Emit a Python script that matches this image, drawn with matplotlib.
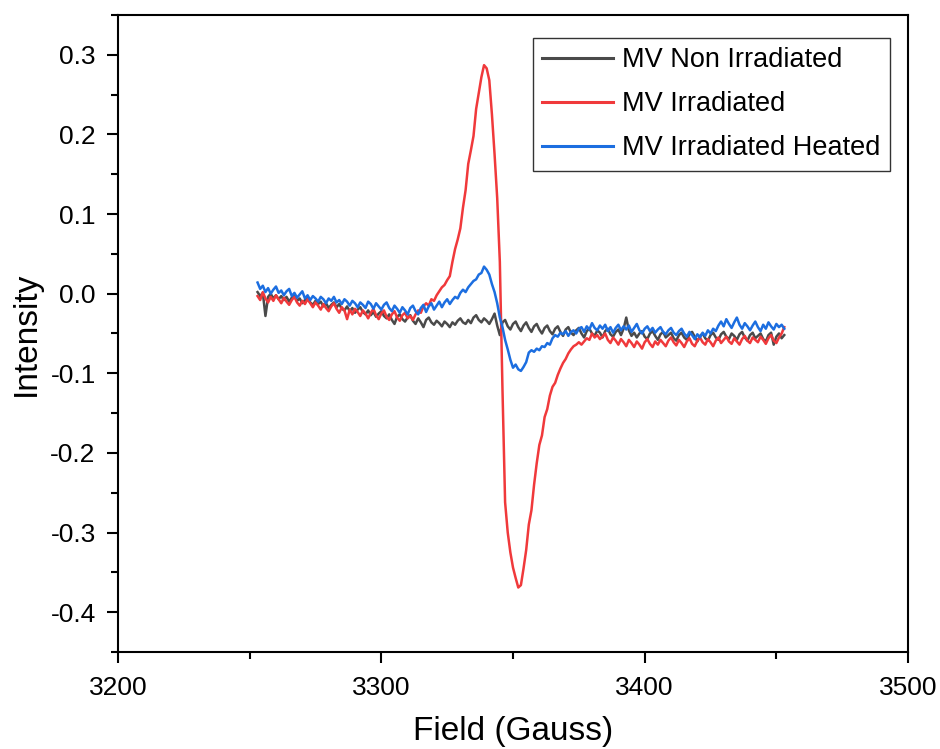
import numpy as np
import matplotlib.pyplot as plt
from matplotlib.ticker import MultipleLocator

# Field axis: 1 G steps from 3253 to 3453 G
field_start = 3253.0
field_step = 1.0

non_irradiated = [
    0.002, -0.003, 0.001, -0.028, -0.004, 0.000, -0.006, -0.002, -0.007, -0.003,
    -0.008, -0.004, -0.010, -0.005, -0.002, -0.009, -0.006, -0.012, -0.008, -0.005,
    -0.011, -0.014, -0.009, -0.013, -0.010, -0.016, -0.012, -0.018, -0.014, -0.011,
    -0.017, -0.013, -0.019, -0.021, -0.016, -0.022, -0.018, -0.024, -0.020, -0.017,
    -0.023, -0.026, -0.021, -0.027, -0.023, -0.029, -0.025, -0.022, -0.028, -0.031,
    -0.026, -0.033, -0.038, -0.029, -0.026, -0.032, -0.035, -0.030, -0.027, -0.034,
    -0.038, -0.031, -0.036, -0.042, -0.033, -0.030, -0.036, -0.039, -0.034, -0.037,
    -0.041, -0.035, -0.038, -0.042, -0.036, -0.039, -0.034, -0.031, -0.036, -0.038,
    -0.033, -0.037, -0.030, -0.027, -0.033, -0.036, -0.031, -0.034, -0.038, -0.032,
    -0.025, -0.040, -0.052, -0.036, -0.033, -0.041, -0.045, -0.038, -0.035, -0.042,
    -0.047, -0.040, -0.036, -0.043, -0.048, -0.041, -0.038, -0.045, -0.050, -0.043,
    -0.040, -0.047, -0.051, -0.044, -0.041, -0.048, -0.053, -0.045, -0.042, -0.049,
    -0.052, -0.046, -0.043, -0.050, -0.055, -0.047, -0.044, -0.050, -0.053, -0.046,
    -0.049, -0.055, -0.047, -0.044, -0.051, -0.054, -0.048, -0.045, -0.052, -0.044,
    -0.030, -0.046, -0.053, -0.049, -0.055, -0.050, -0.047, -0.054, -0.057, -0.050,
    -0.047, -0.053, -0.058, -0.051, -0.048, -0.055, -0.052, -0.049, -0.056, -0.059,
    -0.052, -0.049, -0.055, -0.058, -0.051, -0.048, -0.054, -0.060, -0.053, -0.050,
    -0.056, -0.059, -0.052, -0.049, -0.055, -0.058, -0.051, -0.048, -0.054, -0.057,
    -0.050, -0.053, -0.058, -0.051, -0.048, -0.055, -0.059, -0.052, -0.049, -0.056,
    -0.053, -0.050, -0.057, -0.060, -0.052, -0.049, -0.064, -0.054, -0.050, -0.056,
    -0.052,
]

irradiated = [
    -0.003, -0.008, 0.002, -0.006, -0.011, -0.004, -0.009, -0.002, -0.007, -0.012,
    -0.005, -0.010, -0.014, -0.008, -0.004, -0.011, -0.015, -0.009, -0.013, -0.007,
    -0.012, -0.017, -0.011, -0.015, -0.020, -0.013, -0.018, -0.022, -0.016, -0.012,
    -0.019, -0.024, -0.017, -0.021, -0.032, -0.020, -0.026, -0.019, -0.023, -0.028,
    -0.021, -0.025, -0.031, -0.024, -0.019, -0.027, -0.032, -0.025, -0.021, -0.029,
    -0.033, -0.026, -0.022, -0.030, -0.034, -0.027, -0.024, -0.031, -0.028, -0.033,
    -0.026, -0.021, -0.024, -0.016, -0.012, -0.015, -0.007, -0.009, -0.002, 0.003,
    0.008, 0.011, 0.017, 0.022, 0.040, 0.056, 0.068, 0.082, 0.108, 0.130,
    0.163, 0.180, 0.198, 0.232, 0.252, 0.272, 0.287, 0.283, 0.268, 0.225,
    0.175, 0.120, 0.040, -0.120, -0.262, -0.300, -0.325, -0.344, -0.357, -0.369,
    -0.366, -0.345, -0.322, -0.290, -0.272, -0.240, -0.213, -0.190, -0.178, -0.155,
    -0.145, -0.128, -0.117, -0.112, -0.102, -0.094, -0.087, -0.082, -0.075, -0.070,
    -0.066, -0.064, -0.061, -0.064, -0.060, -0.056, -0.058, -0.050, -0.055, -0.052,
    -0.057, -0.054, -0.050, -0.058, -0.062, -0.055, -0.059, -0.064, -0.057, -0.061,
    -0.066, -0.058, -0.062, -0.067, -0.060, -0.064, -0.069, -0.061, -0.057, -0.063,
    -0.067, -0.060, -0.064, -0.058, -0.062, -0.066, -0.059, -0.055, -0.061, -0.065,
    -0.058, -0.062, -0.067, -0.060, -0.056, -0.063, -0.066, -0.059, -0.055, -0.061,
    -0.064, -0.057, -0.061, -0.066, -0.059, -0.055, -0.062, -0.058, -0.054, -0.060,
    -0.063, -0.056, -0.060, -0.064, -0.057, -0.053, -0.059, -0.062, -0.055, -0.058,
    -0.061, -0.054, -0.058, -0.063, -0.056, -0.052, -0.059, -0.062, -0.055, -0.050,
    -0.042,
]

irradiated_heated = [
    0.014, 0.006, 0.010, 0.002, 0.007, 0.000, 0.005, 0.009, 0.001, 0.004,
    -0.002, 0.003, 0.006, -0.003, 0.001, -0.005, -0.001, 0.003, -0.006, -0.002,
    -0.008, -0.003, -0.006, -0.010, -0.004, -0.007, -0.012, -0.006, -0.009, -0.004,
    -0.011, -0.008, -0.013, -0.007, -0.010, -0.015, -0.009, -0.012, -0.017, -0.011,
    -0.014, -0.018, -0.010, -0.013, -0.019, -0.012, -0.016, -0.020, -0.014, -0.011,
    -0.018, -0.022, -0.015, -0.019, -0.024, -0.017, -0.021, -0.026, -0.018, -0.015,
    -0.022, -0.026, -0.018, -0.014, -0.023, -0.016, -0.012, -0.020, -0.015, -0.010,
    -0.017, -0.011, -0.007, -0.013, -0.008, -0.004, -0.006, 0.001, 0.005, 0.002,
    0.008, 0.012, 0.016, 0.018, 0.024, 0.026, 0.034, 0.030, 0.024, 0.012,
    0.002, -0.012, -0.030, -0.042, -0.058, -0.070, -0.083, -0.093, -0.089, -0.095,
    -0.097, -0.092, -0.086, -0.074, -0.071, -0.073, -0.069, -0.071, -0.066, -0.067,
    -0.062, -0.064, -0.056, -0.052, -0.054, -0.049, -0.051, -0.047, -0.053, -0.048,
    -0.046, -0.050, -0.044, -0.042, -0.048, -0.041, -0.045, -0.037, -0.043, -0.046,
    -0.040, -0.044, -0.039, -0.047, -0.042, -0.049, -0.043, -0.039, -0.046, -0.041,
    -0.045, -0.040, -0.048, -0.043, -0.038, -0.046, -0.050, -0.044, -0.041, -0.047,
    -0.043, -0.049, -0.045, -0.042, -0.048, -0.051, -0.046, -0.043, -0.049, -0.052,
    -0.047, -0.044, -0.050, -0.054, -0.048, -0.052, -0.057, -0.051, -0.055, -0.049,
    -0.053, -0.046, -0.050, -0.044, -0.047, -0.040, -0.035, -0.041, -0.032, -0.038,
    -0.043, -0.036, -0.030, -0.039, -0.044, -0.037, -0.041, -0.046, -0.040, -0.035,
    -0.042, -0.047, -0.039, -0.044, -0.036, -0.041, -0.045, -0.038, -0.042, -0.039,
    -0.044,
]

labels = ['MV Non Irradiated', 'MV Irradiated', 'MV Irradiated Heated']
colors = ['#4a4a4a', '#f0393b', '#1c6ee0']

plt.rcParams['font.family'] = ['Liberation Sans', 'DejaVu Sans']

field = field_start + field_step * np.arange(len(non_irradiated))

fig = plt.figure(figsize=(9.4, 7.49), dpi=100)
ax = fig.add_axes([0.1255, 0.1295, 0.8405, 0.8505])

for series, label, color in zip([non_irradiated, irradiated, irradiated_heated], labels, colors):
    ax.plot(field, series, color=color, linewidth=1.8, label=label)

ax.set_xlim(3200, 3500)
ax.set_ylim(-0.45, 0.35)
ax.xaxis.set_major_locator(MultipleLocator(100))
ax.xaxis.set_minor_locator(MultipleLocator(50))
ax.yaxis.set_major_locator(MultipleLocator(0.1))
ax.yaxis.set_minor_locator(MultipleLocator(0.05))
ax.yaxis.set_major_formatter(plt.FuncFormatter(lambda v, p: f'{v:.1f}'))

for side in ax.spines.values():
    side.set_linewidth(1.5)
ax.tick_params(which='major', direction='out', length=8, width=1.5, labelsize=19)
ax.tick_params(axis='x', which='major', pad=9)
ax.tick_params(axis='y', which='major', pad=8)
ax.tick_params(which='minor', direction='out', length=5, width=1.5)

ax.set_xlabel('Field (Gauss)', fontsize=24, labelpad=12)
ax.set_ylabel('Intensity', fontsize=24, labelpad=6)

leg = ax.legend(loc='upper right', bbox_to_anchor=(0.977, 0.964), borderaxespad=0,
                fontsize=19.5, frameon=True, fancybox=False, edgecolor='black',
                handlelength=2.6, handletextpad=0.35, borderpad=0.35, labelspacing=0.66)
leg.get_frame().set_linewidth(1.0)
for handle in leg.get_lines():
    handle.set_linewidth(2.2)

plt.savefig('out.png', dpi=100)
